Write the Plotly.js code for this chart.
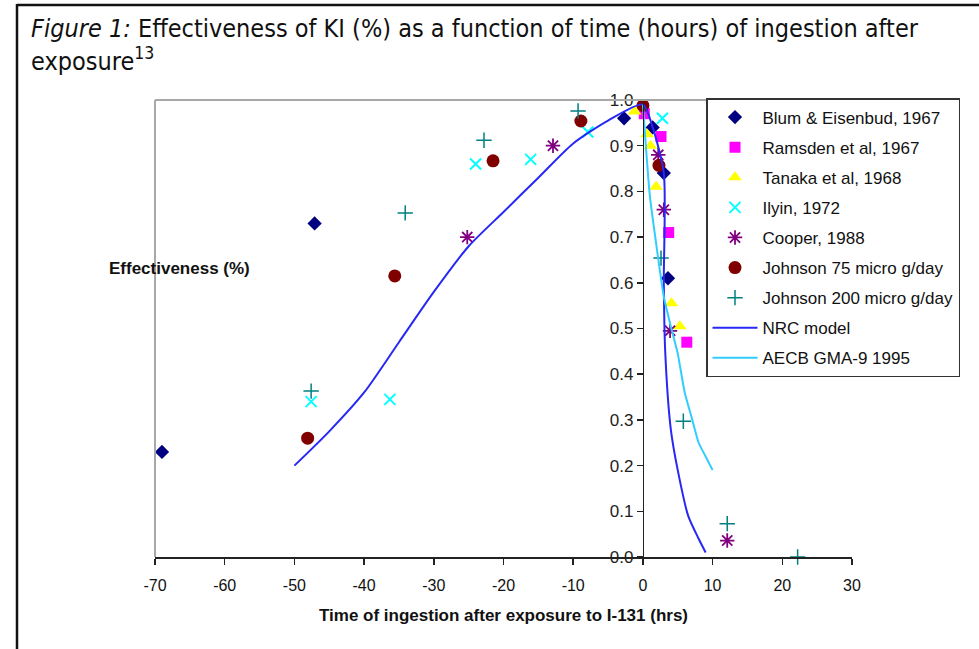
<!DOCTYPE html>
<html>
<head>
<meta charset="utf-8">
<script src="https://cdn.plot.ly/plotly-3.0.1.min.js"></script>
<style>html,body{margin:0;padding:0;background:#fff;}#chart{width:979px;height:649px;}</style>
</head>
<body>
<div id="chart"></div>
<script>
// ---- data ----
const blumX = [-69.0, -47.1, -2.7, 1.4, 3.0, 3.6];
const blumY = [0.23, 0.73, 0.96, 0.94, 0.84, 0.61];

const ramsdenX = [0.2, 2.6, 3.7, 6.3];
const ramsdenY = [0.97, 0.92, 0.71, 0.47];

const tanakaX = [-1.2, 0.6, 1.1, 1.9, 4.1, 5.3];
const tanakaY = [0.975, 0.925, 0.90, 0.81, 0.555, 0.505];

const ilyinX = [-47.6, -36.3, -24.0, -16.1, -7.9, 2.8];
const ilyinY = [0.34, 0.345, 0.86, 0.87, 0.93, 0.96];

const cooperX = [-25.2, -12.9, 2.2, 3.0, 3.9, 12.1];
const cooperY = [0.70, 0.90, 0.88, 0.76, 0.495, 0.036];

const johnson75X = [-48.1, -35.6, -21.5, -8.9, 0.0, 2.3];
const johnson75Y = [0.26, 0.615, 0.867, 0.954, 0.988, 0.857];

const johnson200X = [-47.6, -34.1, -22.8, -9.3, 2.6, 5.8, 12.1, 22.2];
const johnson200Y = [0.363, 0.753, 0.912, 0.976, 0.654, 0.297, 0.073, 0.0];

const nrcX = [-50, -45, -40, -35, -30, -25, -20, -15, -10, -5, 0, 1.4, 3.0, 3.0, 3.2, 4.0, 5.0, 6.5, 8.0, 9.0];
const nrcY = [0.20, 0.275, 0.36, 0.47, 0.58, 0.68, 0.755, 0.83, 0.905, 0.955, 0.99, 0.94, 0.84, 0.60, 0.45, 0.28, 0.19, 0.09, 0.04, 0.01];

const aecbX = [0, 1, 2, 3, 4, 5, 6, 7, 8, 9, 10];
const aecbY = [0.99, 0.79, 0.675, 0.57, 0.505, 0.445, 0.36, 0.305, 0.25, 0.22, 0.19];

const xTickVals = [-70, -60, -50, -40, -30, -20, -10, 0, 10, 20, 30];
const xTickText = ['-70', '-60', '-50', '-40', '-30', '-20', '-10', '0', '10', '20', '30'];

const seriesNames = ['Blum & Eisenbud, 1967', 'Ramsden et al, 1967', 'Tanaka et al, 1968', 'Ilyin, 1972',
  'Cooper, 1988', 'Johnson 75 micro g/day', 'Johnson 200 micro g/day', 'NRC model', 'AECB GMA-9 1995'];

const titleText = '<i>Figure 1:</i> Effectiveness of KI (%) as a function of time (hours) of ingestion after<br>exposure<sup>13</sup>';
const xTitle = 'Time of ingestion after exposure to I-131 (hrs)';
const yTitle = 'Effectiveness (%)';

// ---- layout helpers (pixel -> paper) ----
const W = 979, H = 649, ML = 155, MR = 127, MT = 100, MB = 92;
const PW = W - ML - MR, PH = H - MT - MB;
const px = v => (v - ML) / PW;
const py = v => (H - MB - v) / PH;

const ARIAL = 'Liberation Sans, Arial, sans-serif';
const TITLEFONT = 'DejaVu Sans Condensed, Liberation Sans Narrow, Liberation Sans, sans-serif';

function markerTrace(name, x, y, marker) {
  return {type: 'scatter', mode: 'markers', name: name, legendgroup: name, x: x, y: y,
    marker: marker, cliponaxis: false, hoverinfo: 'x+y+name'};
}

const traces = [
  markerTrace(seriesNames[0], blumX, blumY, {symbol: 'diamond', size: 11, color: '#000080'}),
  markerTrace(seriesNames[1], ramsdenX, ramsdenY, {symbol: 'square', size: 11, color: '#FF00FF'}),
  markerTrace(seriesNames[2], tanakaX, tanakaY, {symbol: 'triangle-up', size: 12, color: '#FFFF00'}),
  markerTrace(seriesNames[3], ilyinX, ilyinY, {symbol: 'x-thin-open', size: 11, color: '#00FFFF', line: {width: 2, color: '#00FFFF'}}),
  markerTrace(seriesNames[4], cooperX, cooperY, {symbol: 'asterisk-open', size: 12, color: '#800080', line: {width: 1.8, color: '#800080'}}),
  markerTrace(seriesNames[5], johnson75X, johnson75Y, {symbol: 'circle', size: 13, color: '#800000'}),
  markerTrace(seriesNames[6], johnson200X, johnson200Y, {symbol: 'cross-thin-open', size: 11, color: '#008080', line: {width: 1.5, color: '#008080'}}),
  {type: 'scatter', mode: 'lines', name: seriesNames[7], legendgroup: seriesNames[7], x: nrcX, y: nrcY,
    line: {color: '#2828F5', width: 2, shape: 'spline', smoothing: 0.7}},
  {type: 'scatter', mode: 'lines', name: seriesNames[8], legendgroup: seriesNames[8], x: aecbX, y: aecbY,
    line: {color: '#33CCFF', width: 2, shape: 'spline', smoothing: 0.6}}
];

const axisCommon = {showgrid: false, zeroline: false};

const layout = {
  width: W, height: H,
  margin: {l: ML, r: MR, t: MT, b: MB, pad: 0},
  paper_bgcolor: '#ffffff', plot_bgcolor: '#ffffff',
  font: {family: ARIAL, color: '#111'},
  showlegend: true,
  legend: {
    x: px(706), y: py(98), xanchor: 'left', yanchor: 'top',
    bgcolor: '#ffffff', bordercolor: '#333', borderwidth: 1.5,
    font: {family: ARIAL, size: 17, color: '#111'},
    itemwidth: 45, tracegroupgap: 5, traceorder: 'grouped'
  },
  xaxis: Object.assign({}, axisCommon, {
    range: [-70, 30], tickmode: 'array', tickvals: xTickVals, ticktext: xTickText,
    ticks: 'outside', ticklen: 6, tickwidth: 1.5, tickcolor: '#222',
    showline: true, linecolor: '#222', linewidth: 1.5,
    tickfont: {family: ARIAL, size: 16, color: '#111'},
    ticklabelstandoff: 7,
    title: {text: '<b>' + xTitle + '</b>', font: {family: ARIAL, size: 17, color: '#111'}, standoff: 16}
  }),
  xaxis2: Object.assign({}, axisCommon, {
    range: [-70, 30], overlaying: 'x', anchor: 'y', side: 'bottom', tickmode: 'array', tickvals: xTickVals,
    ticks: 'inside', ticklen: 6, tickwidth: 1.5, tickcolor: '#222', showticklabels: false, showline: false
  }),
  yaxis: Object.assign({}, axisCommon, {
    range: [0, 1], anchor: 'free', position: (0 - (-70)) / 100, tick0: 0, dtick: 0.1, tickformat: '.1f',
    ticks: 'outside', ticklen: 6, tickwidth: 1.5, tickcolor: '#222',
    showline: true, linecolor: '#222', linewidth: 1.5,
    tickfont: {family: ARIAL, size: 17, color: '#222'}
  }),
  yaxis2: Object.assign({}, axisCommon, {
    range: [0, 1], overlaying: 'y', anchor: 'free', position: (0 - (-70)) / 100, tick0: 0, dtick: 0.1,
    ticks: 'inside', ticklen: 6, tickwidth: 1.5, tickcolor: '#222', showticklabels: false, showline: false
  }),
  annotations: [
    {xref: 'paper', yref: 'paper', x: px(29), y: py(12), xanchor: 'left', yanchor: 'top', align: 'left', showarrow: false,
      text: titleText, font: {family: TITLEFONT, size: 25, color: '#111'}},
    {xref: 'paper', yref: 'paper', x: px(107), y: py(268), xanchor: 'left', yanchor: 'middle', showarrow: false,
      text: '<b>' + yTitle + '</b>', font: {family: ARIAL, size: 17, color: '#111'}}
  ],
  shapes: [
    // plot-area border (top and left)
    {type: 'line', xref: 'paper', yref: 'paper', x0: 0, x1: px(857), y0: 1, y1: 1, line: {color: '#a8a8a8', width: 2}},
    {type: 'line', xref: 'paper', yref: 'paper', x0: 0, x1: 0, y0: 0, y1: 1, line: {color: '#a8a8a8', width: 2}},
    // outer figure frame
    {type: 'line', xref: 'paper', yref: 'paper', x0: px(17), x1: px(985), y0: py(5), y1: py(5), line: {color: '#111', width: 2.5}},
    {type: 'line', xref: 'paper', yref: 'paper', x0: px(17), x1: px(17), y0: py(4), y1: py(655), line: {color: '#111', width: 2.5}}
  ]
};

Plotly.newPlot('chart', traces, layout, {displayModeBar: false, staticPlot: true});
</script>
</body>
</html>
